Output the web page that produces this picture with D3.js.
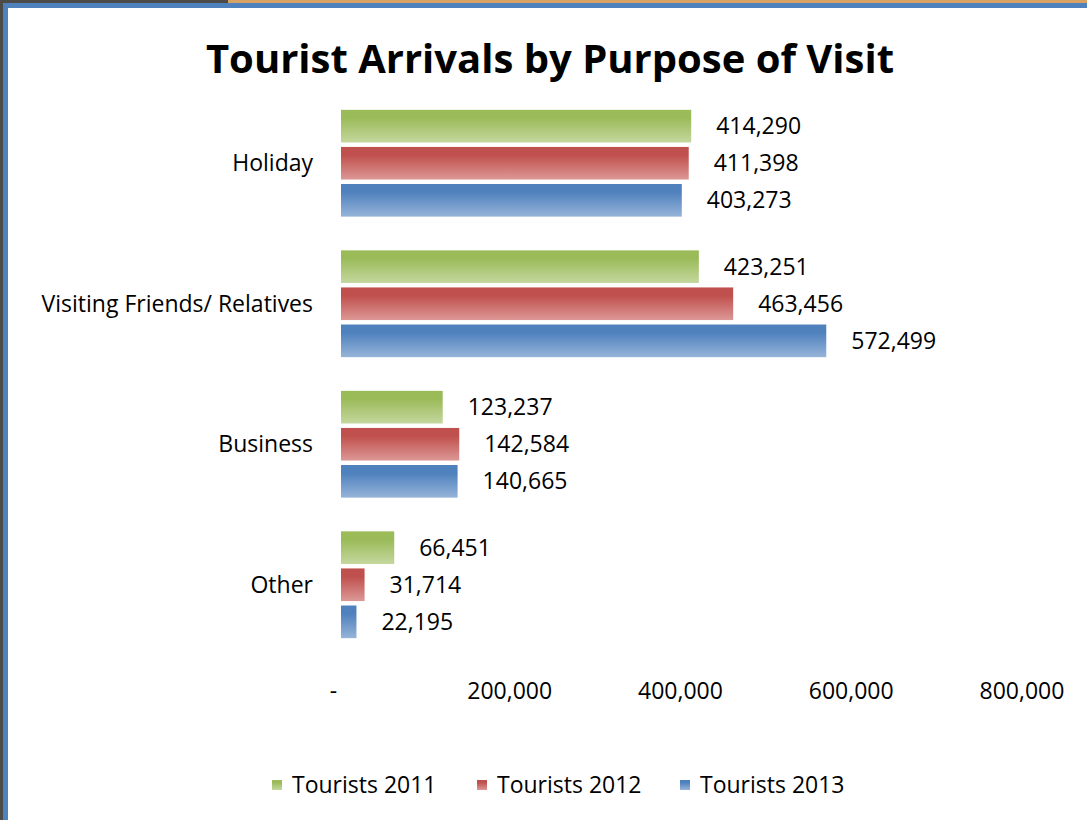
<!DOCTYPE html>
<html>
<head>
<meta charset="utf-8">
<script src="https://cdn.jsdelivr.net/npm/d3@7"></script>
<style>
  html, body { margin: 0; padding: 0; background: #ffffff; }
  svg { display: block; }
  text { font-family: "Open Sans", Lato, sans-serif; fill: #000; }
</style>
</head>
<body>
<svg id="chart" width="1087" height="820"></svg>
<script>
// Tourist arrivals by purpose of visit, 2011–2013
const categories = ["Holiday", "Visiting Friends/ Relatives", "Business", "Other"];
const seriesNames = ["Tourists 2011", "Tourists 2012", "Tourists 2013"];
const tourists2011 = [414290, 423251, 123237, 66451];
const tourists2012 = [411398, 463456, 142584, 31714];
const tourists2013 = [403273, 572499, 140665, 22195];
const xTicks = [0, 200000, 400000, 600000, 800000];

const seriesValues = [tourists2011, tourists2012, tourists2013];
const colors = [
  { top: "#9bbb59", bottom: "#c4d79e" },
  { top: "#c0504d", bottom: "#dc9896" },
  { top: "#4f81bd", bottom: "#96b4d9" }
];

const W = 1087, H = 820;
const svg = d3.select("#chart");

// window frame around the chart area
svg.append("rect").attr("x", 0).attr("y", 0).attr("width", W).attr("height", H).attr("fill", "#4d4b48");
svg.append("rect").attr("x", 228).attr("y", 0).attr("width", W - 228).attr("height", 4).attr("fill", "#d9a262");
svg.append("rect").attr("x", 3).attr("y", 3).attr("width", W - 3).attr("height", H - 3).attr("fill", "#4f81bd");
svg.append("rect").attr("x", 8).attr("y", 8).attr("width", W - 8).attr("height", H - 8).attr("fill", "#ffffff");

const defs = svg.append("defs");
colors.forEach((c, i) => {
  const g = defs.append("linearGradient").attr("id", "grad" + i)
    .attr("x1", 0).attr("y1", 0).attr("x2", 0).attr("y2", 1);
  g.append("stop").attr("offset", "0%").attr("stop-color", c.top);
  g.append("stop").attr("offset", "25%").attr("stop-color", c.top);
  g.append("stop").attr("offset", "100%").attr("stop-color", c.bottom);
});

// Title
svg.append("text")
  .attr("x", 550).attr("y", 73)
  .attr("text-anchor", "middle")
  .style("font-size", "40px").style("font-weight", "bold")
  .text("Tourist Arrivals by Purpose of Visit");

const x = d3.scaleLinear().domain([0, 800000]).range([337.5, 1020.5]);
const barStart = x(0) + 3.5; // bars sit just right of the value axis origin
const y0 = d3.scaleBand().domain(categories).range([93, 655]).paddingInner(0.24).paddingOuter(0.12);
const y1 = d3.scaleBand().domain(seriesNames).range([0, y0.bandwidth()]).paddingInner(0.12);

const fmt = d3.format(",");
const labelSize = "23px";

// Category labels
svg.append("g").selectAll("text").data(categories).join("text")
  .attr("x", 313)
  .attr("y", d => y0(d) + y0.bandwidth() / 2)
  .attr("dy", "0.35em")
  .attr("text-anchor", "end")
  .style("font-size", labelSize)
  .text(d => d);

// Bars and value labels
const groups = svg.append("g").selectAll("g").data(categories).join("g")
  .attr("transform", d => `translate(0,${y0(d)})`);

groups.each(function (cat, ci) {
  const g = d3.select(this);
  const rows = seriesNames.map((s, si) => ({ s, si, v: seriesValues[si][ci] }));
  g.selectAll("rect").data(rows).join("rect")
    .attr("x", barStart)
    .attr("y", d => y1(d.s))
    .attr("width", d => Math.max(0, x(d.v) - barStart))
    .attr("height", y1.bandwidth())
    .attr("fill", d => `url(#grad${d.si})`);
  g.selectAll("text").data(rows).join("text")
    .attr("x", d => x(d.v) + 25)
    .attr("y", d => y1(d.s) + y1.bandwidth() / 2)
    .attr("dy", "0.35em")
    .style("font-size", labelSize)
    .text(d => fmt(d.v));
});

// X axis labels (no axis line)
svg.append("g").selectAll("text").data(xTicks).join("text")
  .attr("x", d => d === 0 ? x(d) - 4 : x(d) + 1.5)
  .attr("y", 691)
  .attr("dy", "0.35em")
  .attr("text-anchor", "middle")
  .style("font-size", labelSize)
  .text(d => d === 0 ? "-" : fmt(d));

// Legend
const legendX = [272, 477, 680];
const legend = svg.append("g").selectAll("g").data(seriesNames).join("g")
  .attr("transform", (d, i) => `translate(${legendX[i]},785)`);
legend.append("rect")
  .attr("x", 0).attr("y", -5).attr("width", 10).attr("height", 10)
  .attr("fill", (d, i) => `url(#grad${i})`);
legend.append("text")
  .attr("x", 20).attr("y", 0).attr("dy", "0.35em")
  .style("font-size", labelSize)
  .text(d => d);
</script>
</body>
</html>
